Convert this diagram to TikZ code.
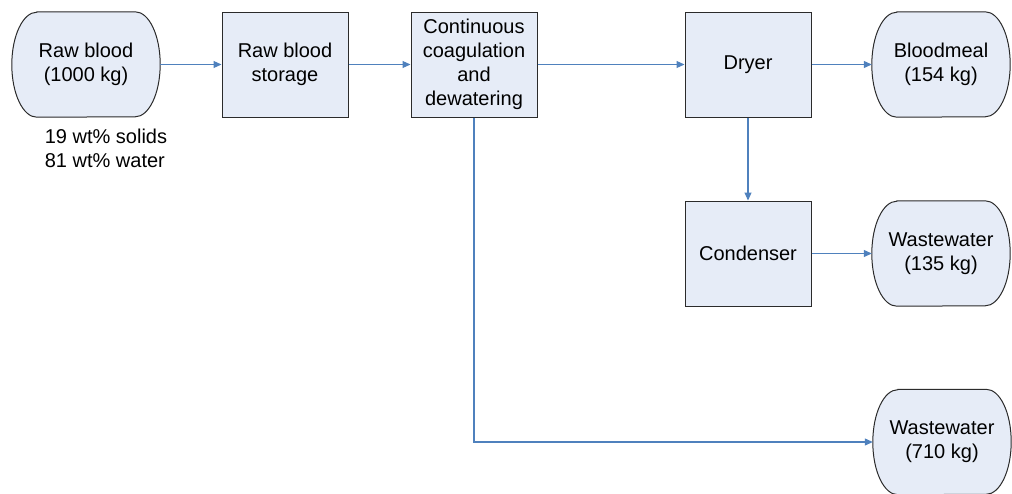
\documentclass[tikz,border=0pt]{standalone}
\usepackage{fontspec}
\setmainfont{Liberation Sans}
\usetikzlibrary{arrows.meta,calc,backgrounds}
\definecolor{flowblue}{HTML}{4F81BD}
\definecolor{boxfill}{HTML}{E6ECF7}
\definecolor{boxline}{HTML}{2B2B2B}
\tikzset{
  x=1pt, y=-1pt,
  every node/.style={font=\fontsize{20}{24}\selectfont, inner sep=0pt},
  unit/.style={draw=boxline, fill=boxfill, line width=1pt,
    minimum width=126pt, minimum height=105pt, align=center},
  term/.style={minimum height=105pt, align=center},
  termline/.style={draw=boxline, fill=boxfill, line width=1pt},
  flow/.style={draw=flowblue, line width=1.1pt,
    -{Triangle[length=8pt,width=7pt]}},
}
\newcommand{\termshape}[1]{%
  \path[termline] ($(#1.north west)+(25,0)$) -- ($(#1.north east)+(-25,0)$)
    arc[start angle=90, end angle=-90, x radius=25pt, y radius=52.5pt]
    -- ($(#1.south west)+(25,0)$)
    arc[start angle=-90, end angle=-270, x radius=25pt, y radius=52.5pt]
    -- cycle;}
\begin{document}
\begin{tikzpicture}
\useasboundingbox (0,0) rectangle (1012,493);

% end points (terminators)
\node[term, minimum width=148pt] (raw) at (86,64.5) {Raw blood\\(1000 kg)};
\node[term, minimum width=138pt] (meal) at (941,64.5) {Bloodmeal\\(154 kg)};
\node[term, minimum width=138pt] (wwa) at (941,253.5) {Wastewater\\(135 kg)};
\node[term, minimum width=138pt] (wwb) at (942,442) {Wastewater\\(710 kg)};
\begin{scope}[on background layer]
  \foreach \n in {raw,meal,wwa,wwb} {\termshape{\n}}
\end{scope}

% process units
\node[unit] (store) at (285,64.5) {Raw blood\\storage};
\node[unit] (coag) at (474,64.5) {Continuous\\coagulation\\and\\dewatering};
\node[unit] (dryer) at (748,64.5) {Dryer};
\node[unit] (cond) at (748,253.5) {Condenser};

% feed composition
\node[align=left] (comp) at (106,148) {19 wt\% solids\\81 wt\% water};

% streams
\draw[flow] (raw) -- (store);
\draw[flow] (store) -- (coag);
\draw[flow] (coag) -- (dryer);
\draw[flow] (dryer) -- (meal);
\draw[flow] (dryer) -- (cond);
\draw[flow] (cond) -- (wwa);
\draw[flow] (coag.south) -- (coag.south |- wwb.west) -- (wwb.west);
\end{tikzpicture}
\end{document}
